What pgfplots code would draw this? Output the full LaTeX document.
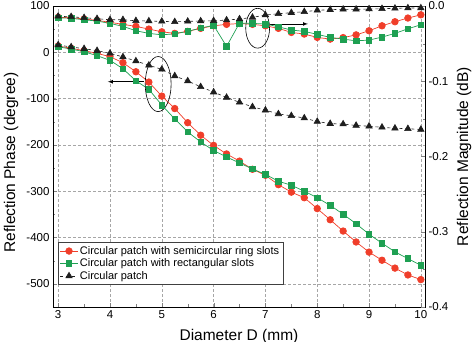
\documentclass[border=0pt]{standalone}
\usepackage{fontspec}
\setmainfont{Liberation Sans}
\usepackage{pgfplots}
\pgfplotsset{compat=1.18}

\definecolor{cred}{RGB}{240,62,42}
\definecolor{cgreen}{RGB}{30,160,82}
\definecolor{cblack}{RGB}{30,30,30}

% reflection phase (degree) vs diameter D (mm)
\pgfplotstableread{
D    ring    rect    plain
3.00  13.6    12.0    15.8
3.25   8.7     7.0    11.5
3.50   3.5     1.3     7.8
3.75  -2.2    -7.3     3.5
4.00  -9.5   -17.3    -2.2
4.25 -22.5   -35.5   -10.0
4.50 -42.0   -61.5   -18.8
4.75 -64.3   -80.0   -28.0
5.00 -94.6  -114.0   -36.8
5.25 -121.5 -144.0   -51.0
5.50 -152.0 -172.0   -62.0
5.75 -179.0 -193.5   -74.5
6.00 -201.0 -212.0   -86.0
6.25 -219.5 -226.0   -97.5
6.50 -235.0 -239.0  -108.0
6.75 -252.6 -252.0  -117.8
7.00 -265.6 -263.5  -125.0
7.25 -285.8 -278.5  -133.0
7.50 -302.0 -287.0  -137.0
7.75 -314.0 -300.0  -142.0
8.00 -337.5 -314.0  -149.5
8.25 -361.6 -330.6  -154.0
8.50 -386.0 -349.5  -155.0
8.75 -409.6 -370.3  -158.0
9.00 -431.5 -392.8  -159.6
9.25 -449.0 -412.3  -162.0
9.50 -466.0 -431.0  -164.0
9.75 -480.8 -445.5  -165.0
10.00 -490.8 -460.0 -166.7
}\phasetable

% reflection magnitude (dB) vs diameter D (mm)
\pgfplotstableread{
D    ring     rect     plain
3.00 -0.0151 -0.0156 -0.0137
3.25 -0.0156 -0.0164 -0.0143
3.50 -0.0173 -0.0183 -0.0156
3.75 -0.0191 -0.0200 -0.0169
4.00 -0.0217 -0.0231 -0.0183
4.25 -0.0244 -0.0271 -0.0183
4.50 -0.0271 -0.0329 -0.0196
4.75 -0.0307 -0.0364 -0.0200
5.00 -0.0343 -0.0383 -0.0204
5.25 -0.0364 -0.0370 -0.0210
5.50 -0.0337 -0.0337 -0.0204
5.75 -0.0297 -0.0293 -0.0200
6.00 -0.0263 -0.0257 -0.0196
6.25 -0.0244 -0.0537 -0.0187
6.50 -0.0233 -0.0227 -0.0173
6.75 -0.0244 -0.0231 -0.0151
7.00 -0.0263 -0.0240 -0.0120
7.25 -0.0297 -0.0276 -0.0103
7.50 -0.0351 -0.0320 -0.0089
7.75 -0.0373 -0.0337 -0.0076
8.00 -0.0417 -0.0377 -0.0057
8.25 -0.0440 -0.0417 -0.0049
8.50 -0.0420 -0.0440 -0.0044
8.75 -0.0384 -0.0463 -0.0044
9.00 -0.0329 -0.0453 -0.0040
9.25 -0.0263 -0.0413 -0.0036
9.50 -0.0209 -0.0364 -0.0031
9.75 -0.0160 -0.0303 -0.0027
10.00 -0.0117 -0.0249 -0.0027
}\magtable

\pgfplotsset{
  common/.style={
    width=372pt, height=301pt, scale only axis,
    xmin=2.9, xmax=10.08,
    tick align=inside,
    tick label style={font=\fontsize{11.5}{13}\selectfont},
    label style={font=\fontsize{15.5}{18}\selectfont},
    /pgf/number format/assume math mode=true,
    axis line style={line width=0.8pt},
    major tick length=4pt, minor tick length=2.5pt,
  },
  ringstyle/.style={cred, line width=0.7pt, mark=*, mark size=3.3pt, mark options={solid, fill=cred, draw=cred}},
  rectstyle/.style={cgreen, line width=0.7pt, mark=square*, mark size=2.8pt, mark options={solid, fill=cgreen, draw=cgreen}},
  plainstyle/.style={cblack, line width=0.6pt, dashed, mark=triangle*, mark size=3.7pt, mark options={solid, fill=cblack, draw=cblack}},
}

\begin{document}
\begin{tikzpicture}
\begin{axis}[common,
    ymin=-550, ymax=100,
    xtick={3,4,...,10},
    minor xtick={3.5,4.5,...,9.5},
    ytick={-500,-400,...,100},
    minor ytick={-450,-350,...,50},
    xtick pos=bottom, ytick pos=left,
    grid=major,
    grid style={densely dashed, gray!70, line width=0.5pt},
    xlabel={Diameter D (mm)},
    ylabel={Reflection Phase (degree)},
    xlabel style={at={(axis description cs:0.5,-0.11)}, anchor=base},
    ylabel style={at={(axis description cs:-0.102,0.48)}, rotate=0, anchor=base},
    legend cell align=left,
    legend style={at={(rel axis cs:0.013,0.073)}, anchor=south west,
      font=\fontsize{11}{12}\selectfont, draw=black!75, line width=0.6pt,
      row sep=-1pt, inner sep=2pt},
  ]
  \coordinate (sw) at (rel axis cs:0,0);
  \coordinate (ne) at (rel axis cs:1,1);
  \addplot[ringstyle]  table[x=D, y=ring]  {\phasetable};
  \addlegendentry{Circular patch with semicircular ring slots}
  \addplot[rectstyle]  table[x=D, y=rect]  {\phasetable};
  \addlegendentry{Circular patch with rectangular slots}
  \addplot[plainstyle] table[x=D, y=plain] {\phasetable};
  \addlegendentry{Circular patch}
  % grouping marks: phase curves (left axis) and magnitude curves (right axis)
  \draw[line width=0.6pt] (axis cs:4.93,-68.6) ellipse [x radius=0.25, y radius=59.5];
  \draw[-latex, line width=0.7pt] (axis cs:4.66,-63.6) -- (axis cs:3.96,-63.6);
  \draw[line width=0.6pt] (axis cs:6.85,52) ellipse [x radius=0.23, y radius=43];
  \draw[-latex, line width=0.7pt] (axis cs:7.08,61.3) -- (axis cs:7.82,61.3);
\end{axis}
\begin{axis}[common,
    ymin=-0.4, ymax=0,
    axis x line=none,
    axis y line*=right,
    ytick={-0.4,-0.3,...,0},
    minor ytick={-0.35,-0.25,...,-0.05},
    yticklabel style={/pgf/number format/fixed, /pgf/number format/fixed zerofill, /pgf/number format/precision=1},
    ylabel={Reflection Magnitude (dB)},
    ylabel style={at={(axis description cs:1.1156,0.5)}, rotate=0, anchor=base},
  ]
  \addplot[ringstyle]  table[x=D, y=ring]  {\magtable};
  \addplot[rectstyle]  table[x=D, y=rect]  {\magtable};
  \addplot[plainstyle] table[x=D, y=plain] {\magtable};
\end{axis}
\pgfresetboundingbox
\useasboundingbox ([shift={(-53pt,-35pt)}]sw) rectangle ([shift={(47pt,6pt)}]ne);
\end{tikzpicture}
\end{document}
